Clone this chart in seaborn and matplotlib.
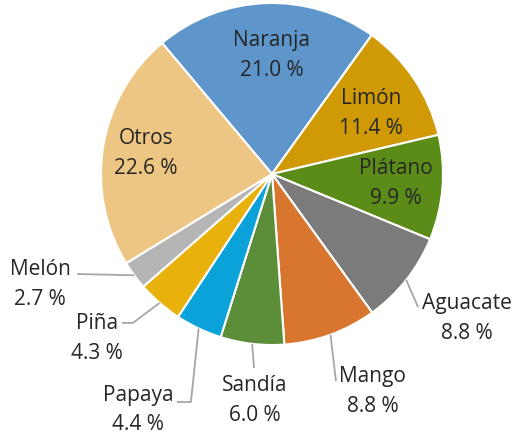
import numpy as np
import matplotlib
matplotlib.use("Agg")
import matplotlib.pyplot as plt
import seaborn as sns

frutas = ["Naranja", "Limón", "Plátano", "Aguacate", "Mango",
          "Sandía", "Papaya", "Piña", "Melón", "Otros"]
porcentajes = [21.0, 11.4, 9.9, 8.8, 8.8, 6.0, 4.4, 4.3, 2.7, 22.6]
colores = ["#5E96CB", "#CF9A06", "#5B8C18", "#7B7B7B", "#D8762F",
           "#5C8E3A", "#0BA1D9", "#E9B10B", "#B5B5B5", "#EEC683"]

# where each label sits (data units, pie radius = 1)
pos_etiqueta = {
    "Naranja": (0.0, 0.695), "Limón": (0.58, 0.352), "Plátano": (0.725, -0.056),
    "Otros": (-0.737, 0.12), "Aguacate": (1.14, -0.846), "Mango": (0.59, -1.272),
    "Sandía": (-0.10, -1.325), "Papaya": (-0.784, -1.38), "Piña": (-1.023, -0.962),
    "Melón": (-1.357, -0.647),
}
# leader line: elbow point, end point
guias = {
    "Aguacate": [(0.854, -0.778)],
    "Mango": [(0.374, -1.211)],
    "Sandía": [(-0.105, -1.135)],
    "Papaya": [(-0.474, -1.333), (-0.556, -1.333)],
    "Piña": [(-0.813, -0.871), (-0.877, -0.871)],
    "Melón": [(-1.14, -0.585)],
}

sns.set_theme(style="white")
plt.rcParams["font.family"] = ["Open Sans", "DejaVu Sans"]

fig = plt.figure(figsize=(5.14, 4.32), dpi=100)
ax = fig.add_axes([0, 0, 1, 1])
wedges, _ = ax.pie(porcentajes, colors=colores, startangle=130, counterclock=False,
                   wedgeprops=dict(edgecolor="white", linewidth=1.5))

for w, nombre, p in zip(wedges, frutas, porcentajes):
    x, y = pos_etiqueta[nombre]
    ax.text(x, y, f"{nombre}\n{p:.1f} %", ha="center", va="center",
            fontsize=15, color="#262626", linespacing=1.55)
    if nombre in guias:
        ang = np.deg2rad((w.theta1 + w.theta2) / 2)
        pts = [(np.cos(ang), np.sin(ang))] + guias[nombre]
        xs, ys = zip(*pts)
        ax.plot(xs, ys, color="#A6A6A6", lw=1.3, solid_capstyle="butt")

ax.set_xlim(-272 / 171, 242 / 171)
ax.set_ylim(-258 / 171, 174 / 171)
ax.set_aspect("equal")
ax.axis("off")
fig.savefig("out.png", dpi=100)
